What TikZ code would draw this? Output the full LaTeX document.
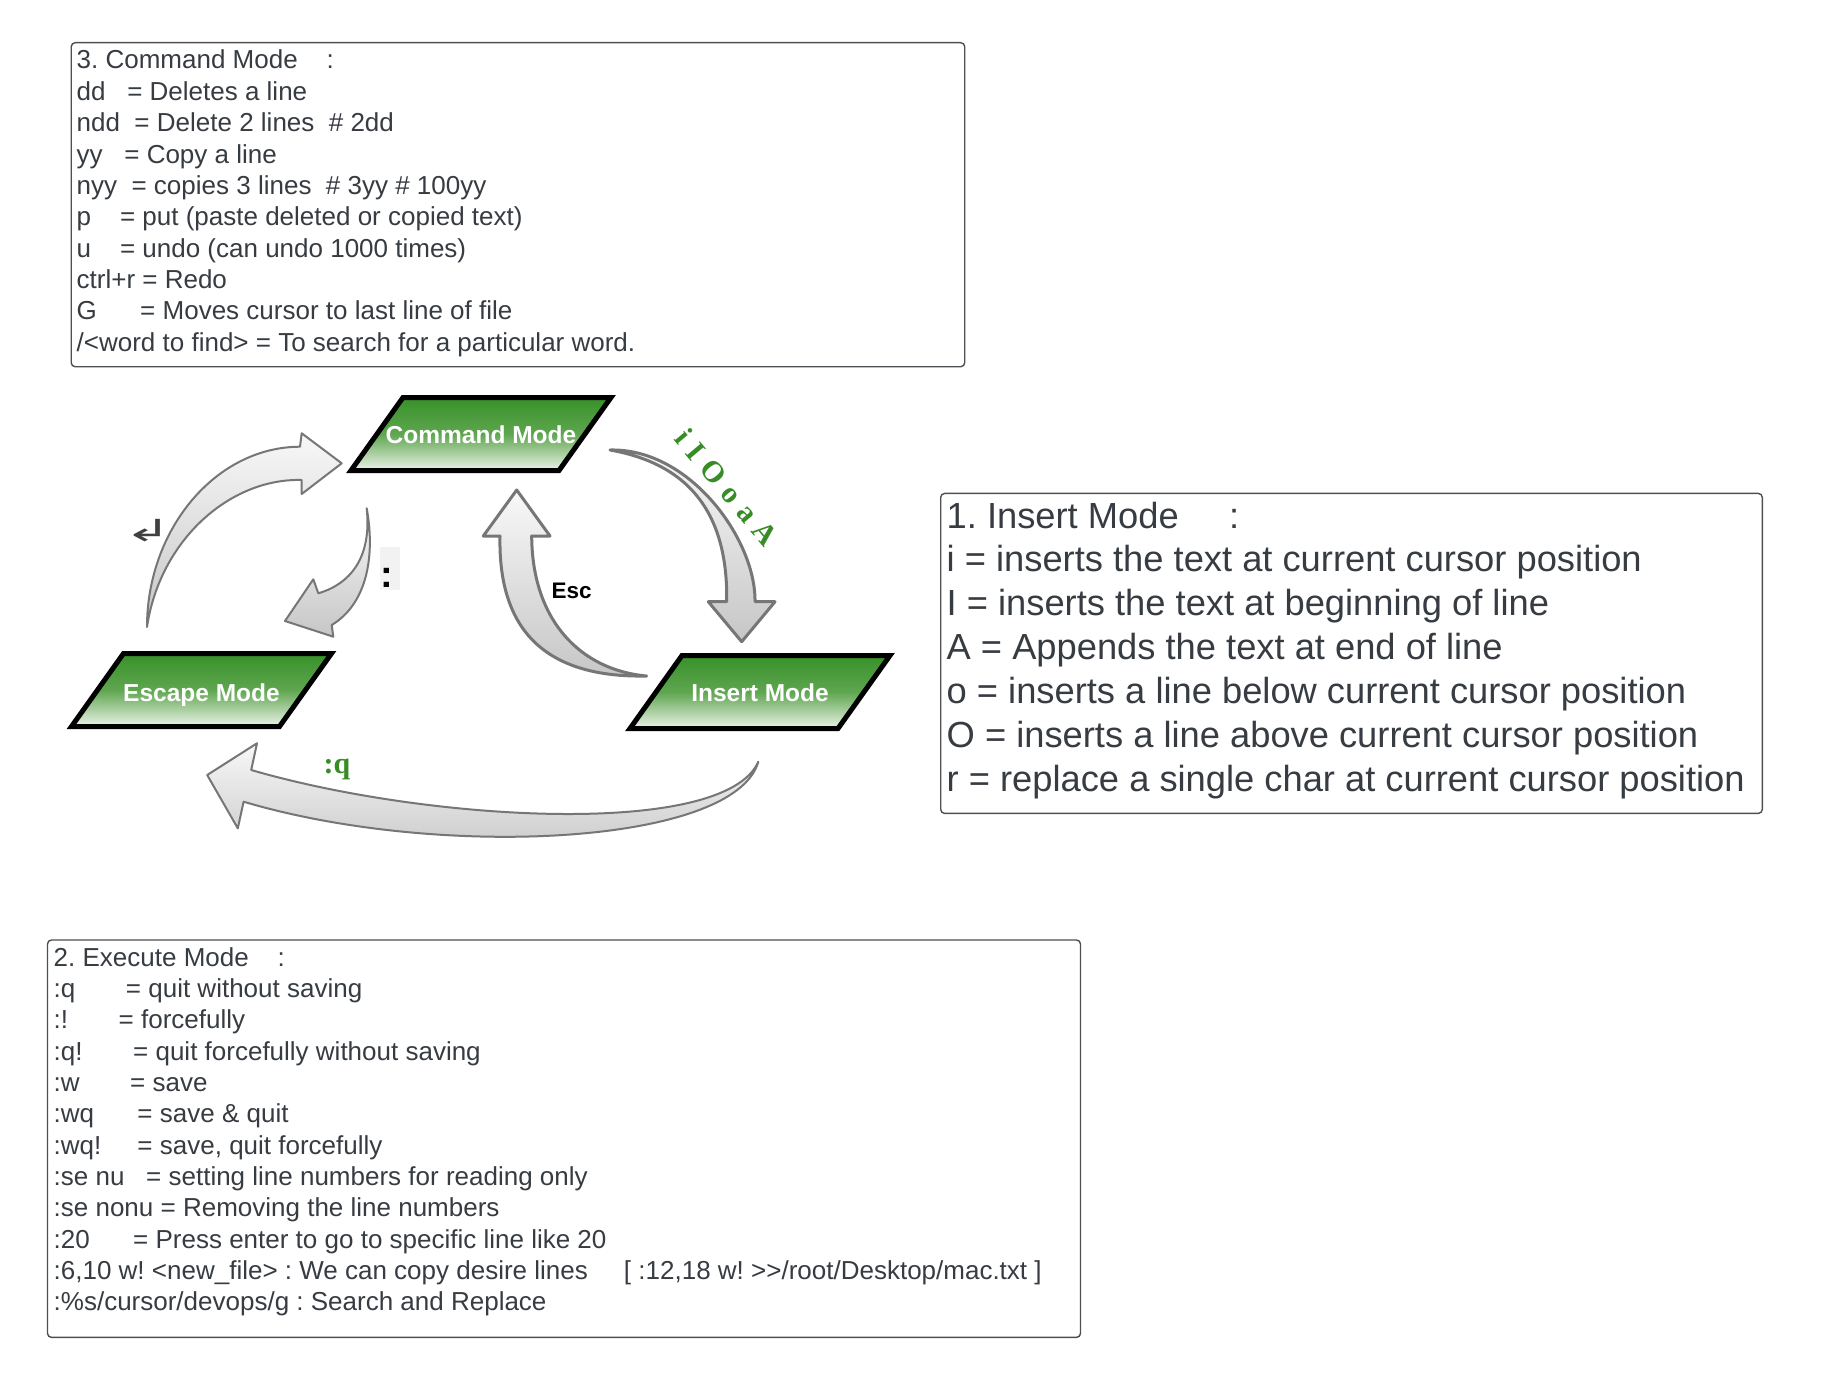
\documentclass[tikz,border=0pt]{standalone}
\usepackage{fontspec}
\setmainfont{Liberation Sans}
\newfontfamily\greenserif{Liberation Serif}
\newfontfamily\arrowglyphfont{DejaVu Sans}
\usetikzlibrary{positioning}
\usetikzlibrary{calc}

\definecolor{boxline}{RGB}{75,80,85}
\definecolor{boxtext}{RGB}{55,60,66}
\definecolor{modegreen}{RGB}{55,145,40}
\definecolor{modemid}{RGB}{95,166,80}
\definecolor{modelight}{RGB}{236,243,233}
\definecolor{arrowline}{RGB}{118,118,118}
\definecolor{arrowlight}{RGB}{248,248,248}
\definecolor{arrowdark}{RGB}{198,198,198}
\definecolor{labelgreen}{RGB}{56,140,38}
\definecolor{colonbg}{RGB}{242,242,242}

\frenchspacing

\begin{document}
\begin{tikzpicture}[x=1pt, y=-1pt,
    infobox/.style={draw=boxline, line width=1.4, rounded corners=4, anchor=north west, inner sep=0},
    infoline/.style={anchor=base west, inner sep=0, text=boxtext, font=\fontsize{26}{31}\selectfont},
    bigline/.style={anchor=base west, inner sep=0, text=boxtext, font=\fontsize{36.3}{44}\selectfont},
    modeshape/.style={draw=black, line width=5, top color=modegreen, bottom color=modelight, middle color=modemid},
    modetext/.style={text=white, inner sep=0, font=\fontsize{24.5}{29}\selectfont\bfseries},
    blockarrow/.style={draw=arrowline, line width=2, line join=round, top color=arrowlight, bottom color=arrowdark},
    keylabel/.style={inner sep=0, font=\fontsize{22.5}{27}\selectfont\bfseries},
    greenlabel/.style={inner sep=0, text=labelgreen, font=\greenserif\bfseries\fontsize{30}{36}\selectfont},
]
    \useasboundingbox (0,0) rectangle (1844,1378);
    \fill[white] (0,0) rectangle (1844,1378);

    % text boxes
    \node[infobox, minimum width=893.5, minimum height=324] (cmdbox) at (70.5,42) {};
    \node[infobox, minimum width=821.6, minimum height=320] (insbox) at (940,492.7) {};
    \node[infobox, minimum width=1033, minimum height=397.4] (exebox) at (46.8,939.3) {};

    \foreach \txt [count=\k from 0] in {
        {3. Command Mode~~~~:},
        {dd~~~= Deletes a line},
        {ndd~~= Delete 2 lines~~\# 2dd},
        {yy~~~= Copy a line},
        {nyy~~= copies 3 lines~~\# 3yy \# 100yy},
        {p~~~~= put (paste deleted or copied text)},
        {u~~~~= undo (can undo 1000 times)},
        {ctrl+r = Redo},
        {G~~~~~~= Moves cursor to last line of file},
        {/<word to find> = To search for a particular word.}}
        \node[infoline] (cmdline\k) at (76.5,69+31.35*\k) {\txt};

    \foreach \txt [count=\k from 0] in {
        {1. Insert Mode~~~~~:},
        {i = inserts the text at current cursor position},
        {I = inserts the text at beginning of line},
        {A = Appends the text at end of line},
        {o = inserts a line below current cursor position},
        {O = inserts a line above current cursor position},
        {r = replace a single char at current cursor position}}
        \node[bigline] (insline\k) at (946.5,528+43.9*\k) {\txt};

    \foreach \txt [count=\k from 0] in {
        {2. Execute Mode~~~~:},
        {:q~~~~~~~= quit without saving},
        {:!~~~~~~~= forcefully},
        {:q!~~~~~~~= quit forcefully without saving},
        {:w~~~~~~~= save},
        {:wq~~~~~~= save \& quit},
        {:wq!~~~~~= save, quit forcefully},
        {:se nu~~~= setting line numbers for reading only},
        {:se nonu = Removing the line numbers},
        {:20~~~~~~= Press enter to go to specific line like 20},
        {:6,10 w! <new\_file> : We can copy desire lines~~~~~[ :12,18 w! >\kern0pt>/root/Desktop/mac.txt ]},
        {:\%s/cursor/devops/g : Search and Replace}}
        \node[infoline] (exeline\k) at (53.5,966+31.36*\k) {\txt};

    % modes
    \coordinate (cmdc) at (481,434);
    \coordinate (escc) at (201.5,690);
    \coordinate (insc) at (760,692);

    \shade[modeshape] ($(cmdc)+(-78,-36.5)$) -- ++(208,0) -- ++(-52,73) -- ++(-208,0) -- cycle;
    \shade[modeshape] ($(escc)+(-78,-36.5)$) -- ++(208,0) -- ++(-52,73) -- ++(-208,0) -- cycle;
    \shade[modeshape] ($(insc)+(-78,-36.5)$) -- ++(208,0) -- ++(-52,73) -- ++(-208,0) -- cycle;

    \node[modetext] (cmd) at ($(cmdc)+(0,1)$) {Command Mode};
    \node[modetext] (esc) at ($(escc)+(0,5.5)$) {Escape Mode};
    \node[modetext] (ins) at ($(insc)+(0,1)$) {Insert Mode};

    % escape -> command
    \shade[blockarrow] (147,627) .. controls (147,530) and (215,447) .. (300,446.7)
        -- (301.7,433.3) -- (341.7,463.3) -- (301.7,494) -- (301.7,480)
        .. controls (230,478) and (160,540) .. (147,627) -- cycle;

    % command -> escape
    \shade[blockarrow] (366.7,508.3) .. controls (376,560) and (365,605) .. (331.7,625)
        -- (333.3,636.7) -- (285,621) -- (313.3,579.3) -- (318.3,593.3)
        .. controls (350,584) and (372,558) .. (366.7,508.3) -- cycle;

    % insert -> command
    \shade[blockarrow, line width=3] (646.7,676) .. controls (545,678) and (498,630) .. (500,536)
        -- (483.3,536) -- (516.7,490) -- (550,536) -- (531.7,536)
        .. controls (532,620) and (580,670) .. (646.7,676) -- cycle;

    % command -> insert
    \shade[blockarrow, line width=3] (610,450) .. controls (690,448) and (756,540) .. (755,601.7)
        -- (775,601.7) -- (741.7,641.7) -- (708.3,601.7) -- (726.7,601.7)
        .. controls (728,520) and (695,465) .. (610,450) -- cycle;

    % insert -> escape
    \shade[blockarrow] (758.3,761.7) .. controls (735,845) and (440,860) .. (243.6,801.7)
        -- (237.8,828.3) -- (207.2,775) -- (257,743.3) -- (251.2,770)
        .. controls (430,822) and (725,838) .. (758.3,761.7) -- cycle;

    % arrow labels
    \node[inner sep=0, text=black!75, xscale=1.5, yscale=0.8, font=\arrowglyphfont\fontsize{38}{44}\selectfont] (enterkey) at (148,531) {↲};
    \node[fill=colonbg, minimum width=20, minimum height=43, inner sep=0] (colonbox) at (390,568.5) {};
    \node[inner sep=0, font=\fontsize{38}{44}\selectfont\bfseries] (colonkey) at (387.3,577.5) {:};
    \node[keylabel] (esckey) at (571.7,591) {Esc};
    \node[greenlabel] (quitkey) at (337,769) {:q};
    \node[greenlabel, rotate=-50] (insertkeys) at (727,487.5) {\addfontfeature{LetterSpace=31}iIOoaA};
\end{tikzpicture}
\end{document}
